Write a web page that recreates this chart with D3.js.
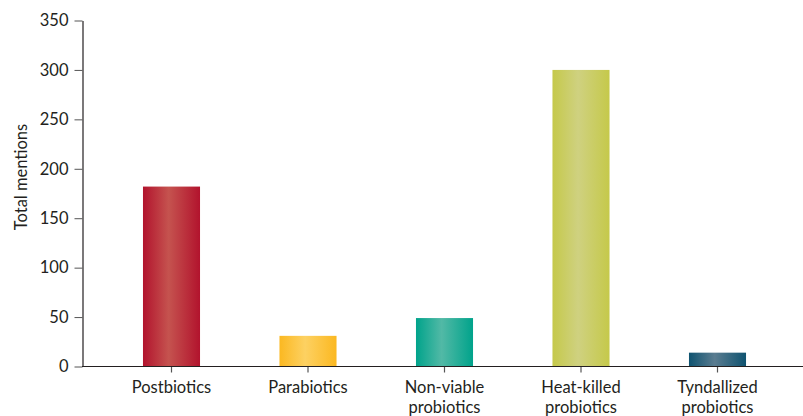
<!DOCTYPE html>
<html><head><meta charset="utf-8">
<script src="https://cdn.jsdelivr.net/npm/d3@7"></script>
<style>
body{margin:0;background:#fff;}
text{font-family:Lato,"Open Sans",sans-serif;fill:#231f20;}
</style></head>
<body><svg id="chart" width="803" height="416"></svg>
<script>
const categories = [["Postbiotics"],["Parabiotics"],["Non-viable","probiotics"],["Heat-killed","probiotics"],["Tyndallized","probiotics"]];
const values = [182, 31, 49, 300, 14];
const yTicks = [0, 50, 100, 150, 200, 250, 300, 350];
const edgeColors = ["#b2132d", "#fbb821", "#00a38b", "#c5c94a", "#0f5370"];
const centerColors = ["#c5534f", "#fdd162", "#52b9a6", "#cfd180", "#5a7c90"];
const yLabel = "Total mentions";

const svg = d3.select("#chart");
const keys = categories.map(c => c.join(" "));
const x = d3.scaleBand().domain(keys).range([103.25, 785.75]).paddingInner(0.582).paddingOuter(0.291);
const y = d3.scaleLinear().domain([0, 350]).range([366.5, 20.5]);

const defs = svg.append("defs");
keys.forEach((k, i) => {
  const g = defs.append("linearGradient").attr("id", "g" + i).attr("x1", "0%").attr("x2", "100%").attr("y1", "0%").attr("y2", "0%");
  g.append("stop").attr("offset", "0%").attr("stop-color", edgeColors[i]);
  g.append("stop").attr("offset", "45%").attr("stop-color", centerColors[i]);
  g.append("stop").attr("offset", "100%").attr("stop-color", edgeColors[i]);
});

svg.selectAll("rect.bar").data(values).enter().append("rect")
  .attr("class", "bar")
  .attr("x", (d, i) => x(keys[i]))
  .attr("width", x.bandwidth())
  .attr("y", d => y(d))
  .attr("height", d => y(0) - y(d))
  .attr("fill", (d, i) => "url(#g" + i + ")");

// Y axis
const yAxis = svg.append("g").attr("transform", "translate(82.5,0)")
  .call(d3.axisLeft(y).tickValues(yTicks).tickSize(8).tickPadding(6).tickSizeOuter(0));
yAxis.select(".domain").attr("stroke", "#231f20").attr("stroke-width", 1.2);
yAxis.selectAll(".tick line").attr("stroke", "#555").attr("stroke-width", 1);
yAxis.selectAll(".tick text").attr("font-size", 16.5).attr("font-family", "Lato").attr("fill", "#231f20");

// X axis
const xAxis = svg.append("g").attr("transform", "translate(0," + y(0) + ")")
  .call(d3.axisBottom(x).tickSize(6).tickSizeOuter(0).tickFormat(""));
xAxis.select(".domain").remove();
xAxis.selectAll(".tick line").attr("stroke", "#555").attr("stroke-width", 1.2);
svg.append("line").attr("x1", 82).attr("x2", 803).attr("y1", y(0)).attr("y2", y(0))
  .attr("stroke", "#231f20").attr("stroke-width", 1.2);

xAxis.selectAll(".tick").each(function(d, i) {
  const t = d3.select(this).append("text").attr("text-anchor", "middle")
    .attr("font-size", 16.5).attr("fill", "#231f20");
  categories[i].forEach((line, j) => {
    t.append("tspan").attr("x", 0).attr("y", 26 + j * 20).text(line);
  });
});

svg.append("text").attr("transform", "translate(27,177) rotate(-90)")
  .attr("text-anchor", "middle").attr("font-size", 16.5).text(yLabel);
</script></body></html>
